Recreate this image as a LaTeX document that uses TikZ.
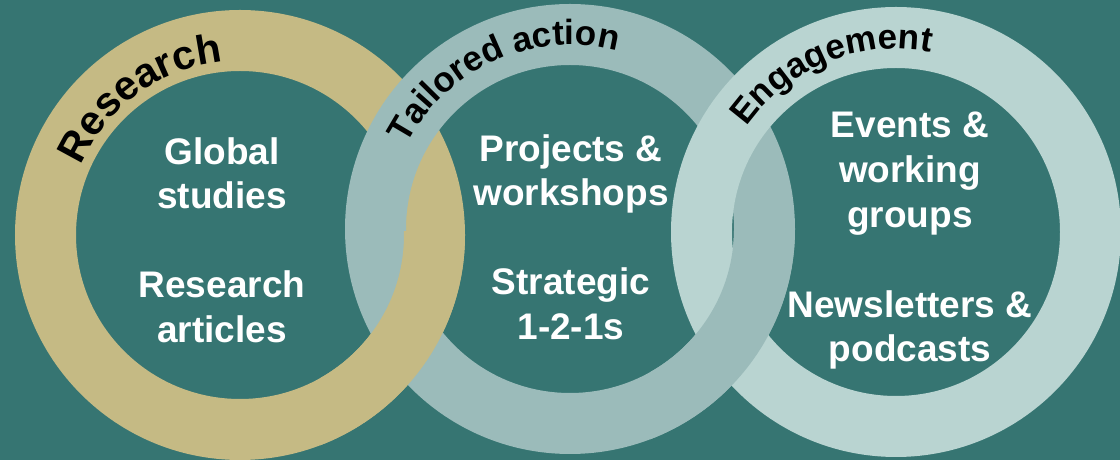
\documentclass[tikz,border=0pt]{standalone}
\usepackage{fontspec}
\setmainfont{Liberation Sans}
\usetikzlibrary{decorations.text}
\definecolor{bgteal}{HTML}{367572}
\definecolor{ringtan}{HTML}{C5BA84}
\definecolor{ringmid}{HTML}{9BBBBA}
\definecolor{ringlight}{HTML}{B9D4D1}
\newcommand{\innerfont}{\fontsize{37}{44}\selectfont\bfseries}
\newcommand{\lblA}{\fontsize{41}{44}\selectfont\bfseries}
\newcommand{\lblB}{\fontsize{35}{38}\selectfont\bfseries}
\begin{document}
\begin{tikzpicture}[x=1pt,y=1pt,
  ringband/.style={line width=61pt},
  inner/.style={text=white, font=\innerfont, anchor=base, inner sep=0pt},
  arclabel/.style={decorate, decoration={text along path, text align=center, text color=black, #1}}]
\fill[bgteal] (0,0) rectangle (1120,460);
\useasboundingbox (0,0) rectangle (1120,460);
\coordinate (c1) at (240,225);
\coordinate (c2) at (570,231);
\coordinate (c3) at (896,228);
% rings
\draw[ringband, ringtan] (c1) circle (194.5pt);
\draw[ringband, ringmid] (c2) circle (194.5pt);
\draw[ringband, ringlight] (c3) circle (194.5pt);
% interlocking at the bottom
\begin{scope}
  \clip (320,0) rectangle (490,228);
  \draw[ringband, ringtan] (c1) circle (194.5pt);
\end{scope}
\begin{scope}
  \clip (650,0) rectangle (820,228);
  \draw[ringband, ringmid] (c2) circle (194.5pt);
\end{scope}
% arc labels
\path[arclabel={text={|\lblA|Research}}] (c1) ++(182:174pt) arc[start angle=182, end angle=70, radius=174pt];
\path[arclabel={text={|\lblB|Tailored action}}] (c2) ++(169:184pt) arc[start angle=169, end angle=59, radius=184pt];
\path[arclabel={text={|\lblB|Engagement}}] (c3) ++(166:183pt) arc[start angle=166, end angle=58, radius=183pt];
% inner texts
\node[inner] (t1a) at (222,295) {Global};
\node[inner] (t1b) at (222,251) {studies};
\node[inner] (t1c) at (222,162) {Research};
\node[inner] (t1d) at (222,117) {articles};
\node[inner] (t2a) at (571,298) {Projects \&};
\node[inner] (t2b) at (571,254) {workshops};
\node[inner] (t2c) at (571,165) {Strategic};
\node[inner] (t2d) at (571,120) {1-2-1s};
\node[inner] (t3a) at (910,322) {Events \&};
\node[inner] (t3b) at (910,277) {working};
\node[inner] (t3c) at (910,232) {groups};
\node[inner] (t3d) at (910,142) {Newsletters \&};
\node[inner] (t3e) at (910,98) {podcasts};
\end{tikzpicture}
\end{document}
